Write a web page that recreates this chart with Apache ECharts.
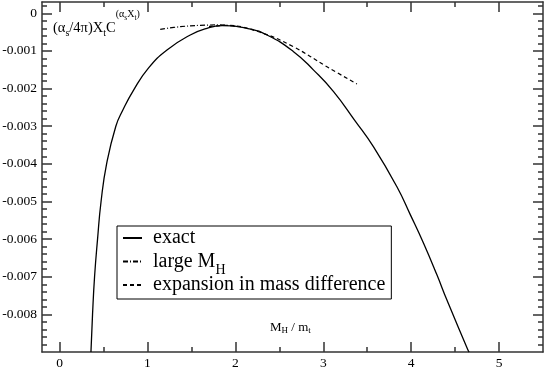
<!DOCTYPE html>
<html><head><meta charset="utf-8">
<script src="https://cdn.jsdelivr.net/npm/echarts@6/dist/echarts.min.js"></script>
<style>html,body{margin:0;padding:0;background:#fff}#c{width:545px;height:369px}</style>
</head><body><div id="c"></div>
<script>
// ---- data ----
const exactX = [0.357, 0.375, 0.398, 0.432, 0.472, 0.535, 0.64, 0.72, 0.842, 1.013, 1.222, 1.487, 1.677, 1.848, 2.132, 2.36, 2.662, 2.89, 3.117, 3.36, 3.572, 3.838, 3.99, 4.141, 4.293, 4.407, 4.646, 4.66];
const exactY = [-0.0090, -0.0080, -0.0070, -0.0060, -0.0050, -0.0040, -0.0030, -0.00257, -0.00204, -0.00145, -0.000975, -0.000577, -0.00040, -0.00033, -0.00040, -0.000577, -0.00102, -0.00151, -0.00208, -0.00285, -0.00355, -0.00461, -0.00535, -0.00611, -0.00695, -0.00762, -0.00895, -0.0090];
const largeX = [1.145, 1.375, 1.6, 1.83, 2.0];
const largeY = [-0.000425, -0.000356, -0.00032, -0.00031, -0.00035];
const expX = [1.70, 1.90, 2.283, 2.66, 3.042, 3.383];
const expY = [-0.00035, -0.00032, -0.000505, -0.000888, -0.00142, -0.00188];
const seriesNames = ['exact', 'large M_H', 'expansion in mass difference'];
const xMajorTicks = [0, 1, 2, 3, 4, 5];
const xMinorTicks = [0.5, 1.5, 2.5, 3.5, 4.5];
const yMajorTicks = [0, -0.001, -0.002, -0.003, -0.004, -0.005, -0.006, -0.007, -0.008];
const yMinorTicks = [];
for (let k = -44; k <= 1; k++) { if (k % 5 !== 0) yMinorTicks.push(+(k * 0.0002).toFixed(4)); }
const X_MIN = -0.2, X_MAX = 5.5, Y_MIN = -0.009, Y_MAX = 0.0003;

const FONT = 'Liberation Serif';
const AX = '#333';
const pairs = (xs, ys) => xs.map((x, i) => [x, ys[i]]);

function xAx(pos, ticks, len, labels, line) {
  return {
    type: 'value', min: X_MIN, max: X_MAX, position: pos,
    axisLine: { show: line, onZero: false, lineStyle: { color: AX, width: 1.5 } },
    axisTick: { show: true, inside: true, length: len, customValues: ticks, lineStyle: { color: AX, width: 1.5 } },
    axisLabel: { show: labels, customValues: ticks, margin: 4, fontFamily: FONT, fontSize: 13.5, color: '#000' },
    splitLine: { show: false }
  };
}
function yAx(pos, ticks, len, labels, line) {
  return {
    type: 'value', min: Y_MIN, max: Y_MAX, position: pos,
    axisLine: { show: line, onZero: false, lineStyle: { color: AX, width: 1.5 } },
    axisTick: { show: true, inside: true, length: len, customValues: ticks, lineStyle: { color: AX, width: 1.5 } },
    axisLabel: { show: labels, customValues: ticks, margin: 5, fontFamily: FONT, fontSize: 13.5, color: '#000' },
    splitLine: { show: false }
  };
}

const chart = echarts.init(document.getElementById('c'), null, { renderer: 'canvas' });
chart.setOption({
  animation: false,
  backgroundColor: '#fff',
  grid: { left: 42, right: 2, top: 2, bottom: 17, outerBoundsMode: 'none' },
  xAxis: [
    xAx('bottom', xMajorTicks, 10, true, true),
    xAx('bottom', xMinorTicks, 5, false, false),
    xAx('top', xMajorTicks, 10, false, true),
    xAx('top', xMinorTicks, 5, false, false)
  ],
  yAxis: [
    yAx('left', yMajorTicks, 10, true, true),
    yAx('left', yMinorTicks, 5, false, false),
    yAx('right', yMajorTicks, 10, false, true),
    yAx('right', yMinorTicks, 5, false, false)
  ],
  legend: {
    orient: 'vertical', left: 117, top: 226,
    padding: [2, 6, -2, 5], itemGap: -2.5, itemWidth: 19, itemHeight: 20,
    borderColor: '#000', borderWidth: 1, borderRadius: 0, backgroundColor: '#fff',
    data: seriesNames,
    itemStyle: { opacity: 0, color: 'transparent', borderColor: 'transparent', borderWidth: 0 },
    formatter: n => n === 'large M_H' ? 'large M{sub|H}' : n + '{sub|\u200b}',
    textStyle: {
      fontFamily: FONT, fontSize: 20, lineHeight: 20, color: '#000', padding: [0, 0, 0, 6],
      rich: { sub: { fontFamily: FONT, fontSize: 14, lineHeight: 14, padding: [6, 0, -6, 0], verticalAlign: 'bottom', color: '#000' } }
    }
  },
  graphic: [
    {
      type: 'text', left: 53, top: 9,
      style: {
        text: '{m|(α}{s|s}{m|/4π)X}{s|t}{m|C}{p|(α}{q|s}{p|X}{q|t}{p|)}',
        fill: '#000',
        rich: {
          m: { fontFamily: FONT, fontSize: 14.5, lineHeight: 38 },
          s: { fontFamily: FONT, fontSize: 10, lineHeight: 10, verticalAlign: 'middle', padding: [10, 0, 0, 0] },
          p: { fontFamily: FONT, fontSize: 10, lineHeight: 10, verticalAlign: 'top' },
          q: { fontFamily: FONT, fontSize: 7.5, lineHeight: 8, verticalAlign: 'top', padding: [5, 0, 0, 0] }
        }
      }
    },
    {
      type: 'text', left: 270, top: 321,
      style: {
        text: '{m|M}{s|H}{m| / m}{s|t}',
        fill: '#000',
        rich: {
          m: { fontFamily: FONT, fontSize: 13, lineHeight: 16 },
          s: { fontFamily: FONT, fontSize: 9, lineHeight: 6, verticalAlign: 'bottom' }
        }
      }
    }
  ],
  series: [
    { name: seriesNames[0], type: 'line', data: pairs(exactX, exactY), symbol: 'none', smooth: 0.5, clip: true,
      lineStyle: { color: '#000', width: 1.3, type: 'solid' }, itemStyle: { color: '#000' } },
    { name: seriesNames[1], type: 'line', data: pairs(largeX, largeY), symbol: 'none', smooth: 0.4, clip: true,
      lineStyle: { color: '#000', width: 1.2, type: [5, 2, 1, 2] }, itemStyle: { color: '#000' } },
    { name: seriesNames[2], type: 'line', data: pairs(expX, expY), symbol: 'none', smooth: 0.4, clip: true,
      lineStyle: { color: '#000', width: 1.2, type: [4, 3] }, itemStyle: { color: '#000' } }
  ]
});
</script></body></html>
